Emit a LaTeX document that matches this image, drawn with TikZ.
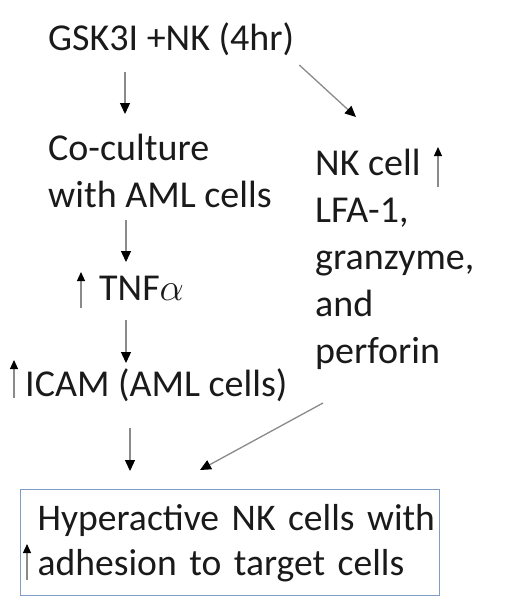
\documentclass[tikz,border=0pt]{standalone}
\usepackage{fontspec}
\setmainfont{Carlito}
\usetikzlibrary{arrows.meta,calc}
\definecolor{boxblue}{HTML}{7F9CC4}
\definecolor{shaft}{HTML}{8A8A8A}
\definecolor{ink}{HTML}{1A1A1A}
\tikzset{
  lbl/.style={anchor=base west, inner sep=0pt, align=left, text=ink, font=\fontsize{38}{47}\selectfont},
  conn/.style={draw=shaft, line width=1.3pt, -{Triangle[width=10pt,length=11pt,color=black]}},
  uparr/.style={draw=shaft, line width=1.1pt, -{Triangle[width=8pt,length=9pt,color=black]}},
  boxnode/.style={draw=boxblue, line width=1.4pt, anchor=north west, inner sep=0pt,
    minimum width=419pt, minimum height=106pt, text width=419pt, align=left,
    text=ink, font=\fontsize{37.6}{45}\selectfont}
}
\begin{document}
\begin{tikzpicture}[x=1pt,y=-1pt]
\useasboundingbox (0,0) rectangle (520,611);
\node[lbl] (gsk) at (48,50) {GSK3I +NK (4hr)};
\node[lbl] (cocult) at (48,207) {Co-culture\\with AML cells};
\node[lbl] (nk) at (315,363) {NK cell\\LFA-1,\\granzyme,\\and\\perforin};
\node[lbl] (tnf) at (99,300) {TNF\scalebox{1.55}{$\alpha$}};
\node[lbl] (icam) at (25,396) {ICAM (AML cells)};
\node[boxnode] (hyper) at (20,489) {\hspace*{17pt}Hyperactive NK cells with\\\hspace*{17pt}adhesion to target cells};
% connectors
\draw[conn] ($(gsk.base west)+(77,22)$) -- ($(cocult.base west)+(77,-93)$);
\draw[conn] ($(gsk.base east)+(5,15)$) -- ($(nk.base west)+(41,-246)$);
\draw[conn] ($(cocult.base west)+(78,13)$) -- ($(tnf.base west)+(27,-38)$);
\draw[conn] ($(tnf.base west)+(27,20)$) -- ($(icam.base west)+(101,-33)$);
\draw[conn] ($(icam.base west)+(105,32)$) -- ($(hyper.north west)+(110,-18)$);
\draw[conn] ($(nk.base west)+(8,40)$) -- ($(hyper.north west)+(180,-19)$);
% increase arrows
\coordinate (nkup) at ($(nk.base west)+(123,-216)$);
\draw[uparr] ($(nk.base west)+(123,-176)$) -- (nkup);
\coordinate (tnfup) at ($(tnf.base west)+(-18,-28)$);
\draw[uparr] ($(tnf.base west)+(-18,8)$) -- (tnfup);
\coordinate (icamup) at ($(icam.base west)+(-11,-36)$);
\draw[uparr] ($(icam.base west)+(-11,2)$) -- (icamup);
\coordinate (hypup) at ($(hyper.north west)+(7,55)$);
\draw[uparr] ($(hyper.north west)+(7,91)$) -- (hypup);
\end{tikzpicture}
\end{document}
